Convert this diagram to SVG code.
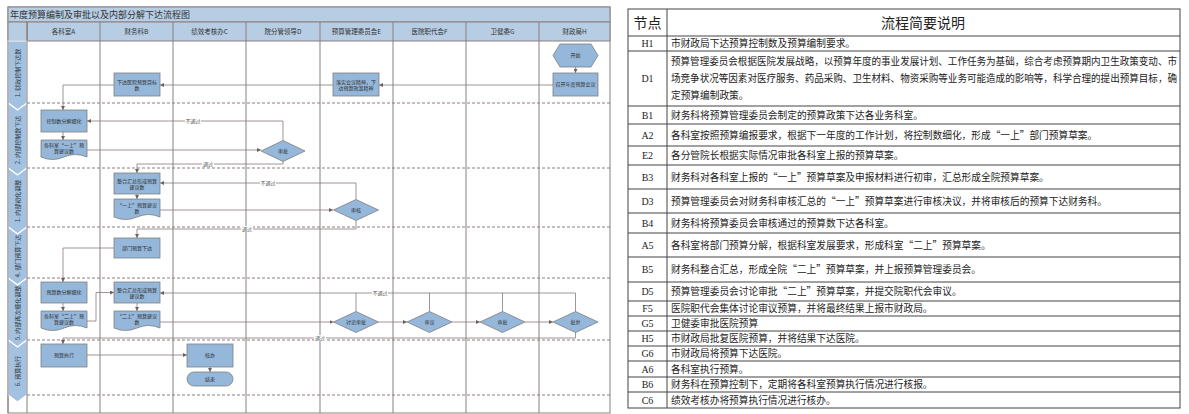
<svg xmlns="http://www.w3.org/2000/svg" width="1189" height="414" viewBox="0 0 1189 414">
<defs>
<style>
.bg{fill:#ffffff}
.hbar{fill:#b7cde4;stroke:#8a8080;stroke-width:1}
.stg{fill:#a3c1e0;stroke:#ffffff;stroke-width:1.2}
.lane{stroke:#8a8080;stroke-width:1;fill:none}
.dash{stroke:#8a7f7f;stroke-width:1;stroke-dasharray:3 2;fill:none}
.box{fill:#95b7da;stroke:#7f7f7f;stroke-width:0.8}
.ln{stroke:#8a7a7a;stroke-width:0.8;fill:none}
.arr{marker-end:url(#ah)}
.t{font-family:"Noto Sans CJK SC",sans-serif;font-size:5px;fill:#2f2f2f;text-anchor:middle}
.lbl{font-family:"Noto Sans CJK SC",sans-serif;font-size:5px;fill:#555;text-anchor:middle}
.ch{font-family:"Noto Sans CJK SC",sans-serif;font-size:6.5px;fill:#333;text-anchor:middle}
.st{font-family:"Noto Sans CJK SC",sans-serif;font-size:6px;fill:#333;text-anchor:middle}
.title{font-family:"Liberation Serif","Noto Sans CJK SC",serif;font-size:9px;fill:#333}
.tb{stroke:#444;stroke-width:1;fill:none}
.id{font-family:"Liberation Serif","Noto Sans CJK SC",serif;font-size:10px;fill:#222;text-anchor:middle}
.d{font-family:"Noto Sans CJK SC",sans-serif;font-size:9.7px;fill:#222}
.th{font-family:"Noto Sans CJK SC",serif;font-size:14px;fill:#222;text-anchor:middle}
</style>
<marker id="ah" viewBox="0 0 6 6" refX="6" refY="3" markerWidth="4" markerHeight="4" markerUnits="userSpaceOnUse" orient="auto"><path d="M0,0 L6,3 L0,6 z" fill="#6e6060"/></marker>
</defs>
<rect class="bg" x="0" y="0" width="1189" height="414"/>

<!-- Swimlane frame -->
<g id="frame">
<rect x="8" y="7" width="602" height="406" fill="#fff" stroke="#8a8080" stroke-width="1"/>
<rect class="hbar" x="8" y="7" width="602" height="15"/>
<text class="title" x="10" y="18">年度预算编制及审批以及内部分解下达流程图</text>
<rect class="hbar" x="27" y="22" width="583" height="19"/>
<rect class="hbar" x="8" y="22" width="19" height="19"/>
<g class="ch">
<text x="63.5" y="34">各科室A</text>
<text x="136.5" y="34">财务科B</text>
<text x="209.5" y="34">绩效考核办C</text>
<text x="283" y="34">院分管领导D</text>
<text x="356.5" y="34">预算管理委员会E</text>
<text x="429.5" y="34">医院职代会F</text>
<text x="502.5" y="34">卫健委G</text>
<text x="574.5" y="34">财政局H</text>
</g>
<polygon class="stg" points="8,41 27,41 27,103 17.5,110 8,103"/>
<polygon class="stg" points="8,103 17.5,110 27,103 27,168 17.5,175 8,168"/>
<polygon class="stg" points="8,168 17.5,175 27,168 27,227 17.5,234 8,227"/>
<polygon class="stg" points="8,227 17.5,234 27,227 27,278 17.5,285 8,278"/>
<polygon class="stg" points="8,278 17.5,285 27,278 27,340 17.5,347 8,340"/>
<polygon class="stg" points="8,340 17.5,347 27,340 27,395 17.5,402 8,395"/>
<line x1="8" y1="41" x2="8" y2="413" stroke="#8a8080" stroke-width="1"/>
<g class="st">
<text transform="translate(19.5,73) rotate(-90)">1. 财政控制下达数</text>
<text transform="translate(19.5,140) rotate(-90)">2. 内部控制数下达</text>
<text transform="translate(19.5,201) rotate(-90)">1. 内部初化调整</text>
<text transform="translate(19.5,256) rotate(-90)">4. 部门预算下达</text>
<text transform="translate(19.5,313) rotate(-90)">5. 内部再次细化调整</text>
<text transform="translate(19.5,371) rotate(-90)">6. 预算执行</text>
</g>
<g class="lane">
<line x1="27" y1="22" x2="27" y2="413"/>
<line x1="100" y1="22" x2="100" y2="413"/>
<line x1="173" y1="22" x2="173" y2="413"/>
<line x1="246" y1="22" x2="246" y2="413"/>
<line x1="320" y1="22" x2="320" y2="413"/>
<line x1="393" y1="22" x2="393" y2="413"/>
<line x1="466" y1="22" x2="466" y2="413"/>
<line x1="539" y1="22" x2="539" y2="413"/>
</g>
<g class="dash">
<line x1="27" y1="103" x2="610" y2="103"/>
<line x1="27" y1="168" x2="610" y2="168"/>
<line x1="27" y1="227" x2="610" y2="227"/>
<line x1="27" y1="278" x2="610" y2="278"/>
<line x1="27" y1="340" x2="610" y2="340"/>
<line x1="27" y1="395" x2="610" y2="395"/>
</g>
</g>

<!-- Connectors -->
<g id="connectors">
<path class="ln arr" d="M575.5,67 V73"/>
<path class="ln arr" d="M553,85 H379"/>
<path class="ln arr" d="M333,85 H160"/>
<path class="ln arr" d="M114,85 H63 V110"/>
<path class="ln arr" d="M63,132 V140"/>
<path class="ln arr" d="M87,150 H261"/>
<path class="ln arr" d="M283,140.5 V121 H87"/>
<path class="ln arr" d="M283,161.5 V164 H137 V173"/>
<path class="ln arr" d="M137,194 V199"/>
<path class="ln arr" d="M160,210 H333"/>
<path class="ln arr" d="M356,199.5 V183 H160"/>
<path class="ln arr" d="M356,220.5 V229 H137 V238"/>
<path class="ln arr" d="M114,248 H63 V282"/>
<path class="ln arr" d="M63,303 V311"/>
<path class="ln arr" d="M87,321 H96 V292.5 H114"/>
<path class="ln arr" d="M137,303 V311"/>
<path class="ln arr" d="M160,322 H333.5"/>
<path class="ln arr" d="M378.5,322 H407"/>
<path class="ln arr" d="M452,322 H480"/>
<path class="ln arr" d="M525,322 H553"/>
<path class="ln arr" d="M575.5,311.5 V293 H160"/>
<path class="ln" d="M356,311.5 V293"/>
<path class="ln" d="M429.5,311.5 V293"/>
<path class="ln" d="M502.5,311.5 V293"/>
<path class="ln arr" d="M575.5,332.5 V338 H63 V344"/>
<path class="ln arr" d="M87,355 H187"/>
<path class="ln arr" d="M210,367 V372"/>
<g class="lbl">
<rect x="185" y="118" width="16" height="6" fill="#fff"/><text x="193" y="122.8">不通过</text>
<rect x="202" y="161" width="12" height="6" fill="#fff"/><text x="208" y="165.8">通过</text>
<rect x="260" y="180" width="16" height="6" fill="#fff"/><text x="268" y="184.8">不通过</text>
<rect x="241" y="226" width="12" height="6" fill="#fff"/><text x="247" y="230.8">通过</text>
<rect x="372" y="290" width="16" height="6" fill="#fff"/><text x="380" y="294.8">不通过</text>
<rect x="314" y="335" width="12" height="6" fill="#fff"/><text x="320" y="339.8">通过</text>
</g>
</g>

<!-- Stage 1 -->
<g id="H1-start">
<polygon class="box" points="553,55.5 560,44 591,44 598,55.5 591,67 560,67"/>
<text class="t" x="575.5" y="57.3">开始</text>
</g>
<g id="H1">
<rect class="box" x="553" y="73" width="45" height="23"/>
<text class="t" x="575.5" y="86.3">召开年度预算会议</text>
</g>
<g id="D1">
<rect class="box" x="333" y="73" width="46" height="23"/>
<text class="t" x="356" y="83.5">落实会议精神，下</text>
<text class="t" x="356" y="90">达预算政策精神</text>
</g>
<g id="B1">
<rect class="box" x="114" y="73" width="46" height="23"/>
<text class="t" x="137" y="83.5">下达医院预算目标</text>
<text class="t" x="137" y="90">数</text>
</g>

<!-- Stage 2 -->
<g id="A2a">
<rect class="box" x="41" y="110" width="46" height="22"/>
<text class="t" x="64" y="122.7">控制数分解细化</text>
</g>
<g id="A2">
<path class="box" d="M41,140 H87 V157 Q75.5,152 64,157 T41,157 Z"/>
<text class="t" x="64" y="147">各科室“一上”预</text>
<text class="t" x="64" y="153">算建议数</text>
</g>
<g id="E2">
<polygon class="box" points="261,151 283,140.5 305,151 283,161.5"/>
<text class="t" x="283" y="152.8">审批</text>
</g>

<!-- Stage 3 -->
<g id="B3">
<rect class="box" x="114" y="173" width="46" height="21"/>
<text class="t" x="137" y="182.5">整合汇总形成预算</text>
<text class="t" x="137" y="189">建议数</text>
</g>
<g id="B3doc">
<path class="box" d="M114,199 H160 V217 Q148.5,212 137,217 T114,217 Z"/>
<text class="t" x="137" y="206.5">“一上”预算建议</text>
<text class="t" x="137" y="212.5">数</text>
</g>
<g id="D3">
<polygon class="box" points="333.5,210 356,199.5 378.5,210 356,220.5"/>
<text class="t" x="356" y="211.8">审核</text>
</g>

<!-- Stage 4 -->
<g id="B4">
<rect class="box" x="114" y="238" width="46" height="20"/>
<text class="t" x="137" y="249.8">部门预算下达</text>
</g>

<!-- Stage 5 -->
<g id="A5a">
<rect class="box" x="41" y="282" width="46" height="21"/>
<text class="t" x="64" y="294.3">预算数分解细化</text>
</g>
<g id="A5">
<path class="box" d="M41,311 H87 V328 Q75.5,323 64,328 T41,328 Z"/>
<text class="t" x="64" y="318">各科室“二上”预</text>
<text class="t" x="64" y="324">算建议数</text>
</g>
<g id="B5a">
<rect class="box" x="114" y="282" width="46" height="21"/>
<text class="t" x="137" y="291.5">整合汇总形成预算</text>
<text class="t" x="137" y="298">建议数</text>
</g>
<g id="B5">
<path class="box" d="M114,311 H160 V328 Q148.5,323 137,328 T114,328 Z"/>
<text class="t" x="137" y="318">“二上”预算建议</text>
<text class="t" x="137" y="324">数</text>
</g>
<g id="D5">
<polygon class="box" points="333.5,322 356,311.5 378.5,322 356,332.5"/>
<text class="t" x="356" y="323.8">讨论审批</text>
</g>
<g id="F5">
<polygon class="box" points="407,322 429.5,311.5 452,322 429.5,332.5"/>
<text class="t" x="429.5" y="323.8">审议</text>
</g>
<g id="G5">
<polygon class="box" points="480,322 502.5,311.5 525,322 502.5,332.5"/>
<text class="t" x="502.5" y="323.8">审批</text>
</g>
<g id="H5">
<polygon class="box" points="553,322 575.5,311.5 598,322 575.5,332.5"/>
<text class="t" x="575.5" y="323.8">批复</text>
</g>

<!-- Stage 6 -->
<g id="A6">
<rect class="box" x="41" y="344" width="46" height="23"/>
<text class="t" x="64" y="357.3">预算执行</text>
</g>
<g id="C6">
<rect class="box" x="187" y="344" width="46" height="23"/>
<text class="t" x="210" y="357.3">核办</text>
</g>
<g id="end">
<rect class="box" x="187" y="372" width="46" height="14" rx="7"/>
<text class="t" x="210" y="380.8">结束</text>
</g>

<!-- Table -->
<g id="table">
<rect class="tb" x="628" y="9" width="552" height="399"/>
<line class="tb" x1="667" y1="9" x2="667" y2="408"/>
<g class="tb">
<line x1="628" y1="36" x2="1180" y2="36"/>
<line x1="628" y1="51" x2="1180" y2="51"/>
<line x1="628" y1="106" x2="1180" y2="106"/>
<line x1="628" y1="124" x2="1180" y2="124"/>
<line x1="628" y1="146" x2="1180" y2="146"/>
<line x1="628" y1="165" x2="1180" y2="165"/>
<line x1="628" y1="189" x2="1180" y2="189"/>
<line x1="628" y1="213" x2="1180" y2="213"/>
<line x1="628" y1="233" x2="1180" y2="233"/>
<line x1="628" y1="257" x2="1180" y2="257"/>
<line x1="628" y1="282" x2="1180" y2="282"/>
<line x1="628" y1="301" x2="1180" y2="301"/>
<line x1="628" y1="316" x2="1180" y2="316"/>
<line x1="628" y1="331" x2="1180" y2="331"/>
<line x1="628" y1="346" x2="1180" y2="346"/>
<line x1="628" y1="361" x2="1180" y2="361"/>
<line x1="628" y1="377" x2="1180" y2="377"/>
<line x1="628" y1="392" x2="1180" y2="392"/>
</g>
<text class="th" x="647.5" y="27.5">节点</text>
<text class="th" x="923" y="27.5">流程简要说明</text>
<g class="id">
<text x="647.5" y="47">H1</text>
<text x="647.5" y="82">D1</text>
<text x="647.5" y="118.5">B1</text>
<text x="647.5" y="138.5">A2</text>
<text x="647.5" y="159">E2</text>
<text x="647.5" y="180.5">B3</text>
<text x="647.5" y="204.5">D3</text>
<text x="647.5" y="226.5">B4</text>
<text x="647.5" y="248.5">A5</text>
<text x="647.5" y="273">B5</text>
<text x="647.5" y="295">D5</text>
<text x="647.5" y="312">F5</text>
<text x="647.5" y="327">G5</text>
<text x="647.5" y="342">H5</text>
<text x="647.5" y="357">G6</text>
<text x="647.5" y="372.5">A6</text>
<text x="647.5" y="388">B6</text>
<text x="647.5" y="403.5">C6</text>
</g>
<g class="d">
<text x="671" y="47">市财政局下达预算控制数及预算编制要求。</text>
<text x="671" y="65" textLength="506" lengthAdjust="spacingAndGlyphs">预算管理委员会根据医院发展战略，以预算年度的事业发展计划、工作任务为基础，综合考虑预算期内卫生政策变动、市</text>
<text x="671" y="82" textLength="506" lengthAdjust="spacingAndGlyphs">场竞争状况等因素对医疗服务、药品采购、卫生材料、物资采购等业务可能造成的影响等，科学合理的提出预算目标，确</text>
<text x="671" y="99">定预算编制政策。</text>
<text x="671" y="118.5">财务科将预算管理委员会制定的预算政策下达各业务科室。</text>
<text x="671" y="138.5">各科室按照预算编报要求，根据下一年度的工作计划，将控制数细化，形成“一上”部门预算草案。</text>
<text x="671" y="159">各分管院长根据实际情况审批各科室上报的预算草案。</text>
<text x="671" y="180.5">财务科对各科室上报的“一上”预算草案及申报材料进行初审，汇总形成全院预算草案。</text>
<text x="671" y="204.5">预算管理委员会对财务科审核汇总的“一上”预算草案进行审核决议，并将审核后的预算下达财务科。</text>
<text x="671" y="226.5">财务科将预算委员会审核通过的预算数下达各科室。</text>
<text x="671" y="248.5">各科室将部门预算分解，根据科室发展要求，形成科室“二上”预算草案。</text>
<text x="671" y="273">财务科整合汇总，形成全院“二上”预算草案，并上报预算管理委员会。</text>
<text x="671" y="295">预算管理委员会讨论审批“二上”预算草案，并提交院职代会审议。</text>
<text x="671" y="312">医院职代会集体讨论审议预算，并将最终结果上报市财政局。</text>
<text x="671" y="327">卫健委审批医院预算</text>
<text x="671" y="342">市财政局批复医院预算，并将结果下达医院。</text>
<text x="671" y="357">市财政局将预算下达医院。</text>
<text x="671" y="372.5">各科室执行预算。</text>
<text x="671" y="388">财务科在预算控制下，定期将各科室预算执行情况进行核报。</text>
<text x="671" y="403.5">绩效考核办将预算执行情况进行核办。</text>
</g>
</g>
</svg>
